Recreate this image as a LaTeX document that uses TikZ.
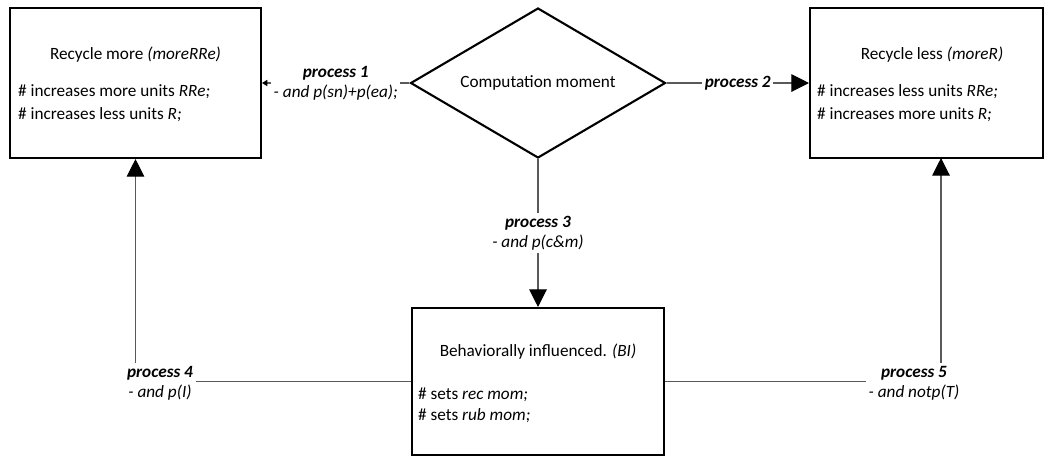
\documentclass[tikz,border=0pt]{standalone}
\usepackage{fontspec}
\setmainfont{Carlito}
\usetikzlibrary{shapes.geometric,arrows.meta}
\definecolor{line gray}{rgb}{0.35, 0.35, 0.35}
\tikzset{
	state/.style={draw=black, line width=1.2pt, minimum height=3cm, inner sep=0pt},
	choice/.style={diamond, aspect=1.7, draw=black, line width=1.2pt, minimum width=5.1cm, minimum height=3cm, inner sep=0pt, font=\fontsize{9.8}{11.5}\selectfont},
	head/.style={inner sep=1pt, font=\fontsize{9.8}{11.5}\selectfont},
	body/.style={anchor=west, inner sep=1pt, font=\fontsize{9.8}{11.5}\selectfont},
	cond/.style={fill=white, align=center, inner sep=1.5pt, font=\fontsize{9.8}{11.5}\selectfont},
	flow/.style={draw=line gray, line width=0.6pt},
	big tip/.style={-{Triangle[width=10pt,length=10pt,fill=black,color=black]}},
	small tip/.style={-{Triangle[width=3.5pt,length=3pt,fill=black,color=black]}}
}

\begin{document}
\begin{tikzpicture}[x=0.02cm, y=-0.02cm]
		\useasboundingbox (0, 0) rectangle (1053, 458);
		% the three states and the choice
		\node[state, minimum width=5.02cm] (moreRRe) at (135.5, 83) {};
		\node[state, minimum width=4.66cm] (moreR) at (926.5, 83) {};
		\node[state, minimum width=5.04cm, minimum height=2.94cm] (BI) at (538, 381.5) {};
		\node[choice] (moment) at (538, 83) {Computation moment};
		% texts of the states
		\node[head] (moreRRe-h) at (135.5, 55) {Recycle more \textit{(moreRRe)}};
		\node[body] (moreRRe-a) at (16, 92) {\# increases more units \textit{RRe;}};
		\node[body] (moreRRe-b) at (16, 115) {\# increases less units \textit{R;}};
		\node[head] (moreR-h) at (932, 55) {Recycle less \textit{(moreR)}};
		\node[body] (moreR-a) at (815, 92) {\# increases less units \textit{RRe;}};
		\node[body] (moreR-b) at (815, 115) {\# increases more units \textit{R;}};
		\node[head] (BI-h) at (538, 352) {Behaviorally influenced. \textit{(BI)}};
		\node[body] (BI-a) at (416, 395) {\# sets \textit{rec mom;}};
		\node[body] (BI-b) at (416, 416) {\# sets \textit{rub mom;}};
		% processes from the choice
		\draw[flow, small tip] (moment.west) -- (moreRRe.east)
			node[cond, midway] (p1) {\textbf{\textit{process 1}}\\\textit{- and p(sn)+p(ea);}};
		\draw[flow, big tip] (moment.east) -- (moreR.west)
			node[cond, midway] (p2) {\textbf{\textit{process 2}}};
		\draw[flow, big tip] (moment.south) -- (BI.north)
			node[cond, midway] (p3) {\textbf{\textit{process 3}}\\\textit{- and p(c\&m)}};
		% processes back from BI
		\node[cond] (p4) at (160, 383) {\textbf{\textit{process 4}}\\\textit{- and p(I)}};
		\node[cond] (p5) at (914, 383) {\textbf{\textit{process 5}}\\\textit{- and notp(T)}};
		\coordinate (up5) at (941, 158);
		\draw[flow] (BI.west) -- (BI.west -| p4.east);
		\draw[flow, big tip] (p4.north -| moreRRe.south) -- (moreRRe.south);
		\draw[flow] (BI.east) -- (BI.east -| p5.west);
		\draw[flow, big tip] (p5.north -| up5) -- (up5);
	\end{tikzpicture}
\end{document}
